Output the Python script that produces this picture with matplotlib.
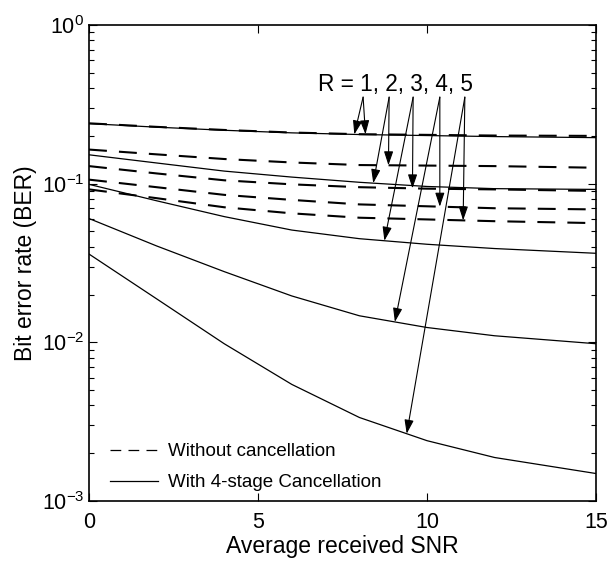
import numpy as np
import matplotlib
matplotlib.use('Agg')
import matplotlib.pyplot as plt

plt.rcParams['font.family'] = ['Liberation Sans', 'DejaVu Sans']
plt.rcParams['mathtext.fontset'] = 'custom'
plt.rcParams['mathtext.rm'] = 'Liberation Sans'

# SNR grid
snr = [0, 2, 4, 6, 8, 10, 12, 15]

# without cancellation (dashed), R = 1..5
ber_nc_r1 = [0.240, 0.228, 0.218, 0.210, 0.205, 0.203, 0.201, 0.200]
ber_nc_r2 = [0.164, 0.153, 0.143, 0.136, 0.131, 0.130, 0.129, 0.126]
ber_nc_r3 = [0.129, 0.116, 0.105, 0.099, 0.095, 0.093, 0.092, 0.090]
ber_nc_r4 = [0.106, 0.095, 0.085, 0.079, 0.074, 0.072, 0.070, 0.0688]
ber_nc_r5 = [0.092, 0.081, 0.071, 0.065, 0.061, 0.0595, 0.058, 0.0564]

# with 4-stage cancellation (solid), R = 1..5
ber_c_r1 = [0.239, 0.227, 0.217, 0.209, 0.204, 0.201, 0.198, 0.195]
ber_c_r2 = [0.152, 0.135, 0.120, 0.110, 0.102, 0.096, 0.093, 0.092]
ber_c_r3 = [0.099, 0.078, 0.062, 0.051, 0.045, 0.0415, 0.039, 0.0364]
ber_c_r4 = [0.0603, 0.0405, 0.0279, 0.0196, 0.0147, 0.0124, 0.011, 0.0098]
ber_c_r5 = [0.036, 0.0188, 0.0098, 0.00543, 0.00336, 0.0024, 0.00188, 0.00149]

nc_curves = [ber_nc_r1, ber_nc_r2, ber_nc_r3, ber_nc_r4, ber_nc_r5]
c_curves = [ber_c_r1, ber_c_r2, ber_c_r3, ber_c_r4, ber_c_r5]

# annotation: arrow start x (below each number) and tip x on the curves
arrow_start_x = [8.11, 8.88, 9.59, 10.38, 11.12]
arrow_start_y = 0.351
tip_x_nc = [8.18, 8.86, 9.57, 10.38, 11.07]
tip_x_c = [7.85, 8.41, 8.74, 9.05, 9.40]

fig = plt.figure(figsize=(6.16, 5.64), dpi=100)
ax = fig.add_axes([0.1445, 0.1117, 0.823, 0.844])

for i in range(5):
    ax.semilogy(snr, nc_curves[i], color='black', lw=1.5, dashes=(8.6, 5.8),
                label='Without cancellation' if i == 0 else None)
    ax.semilogy(snr, c_curves[i], color='black', lw=0.9,
                label='With 4-stage Cancellation' if i == 0 else None)

def on_curve(x, ys):
    return 10 ** np.interp(x, snr, np.log10(ys))

for i in range(5):
    for tx, ys in ((tip_x_nc[i], nc_curves[i]), (tip_x_c[i], c_curves[i])):
        ax.annotate('', xy=(tx, on_curve(tx, ys)),
                    xytext=(arrow_start_x[i], arrow_start_y),
                    arrowprops=dict(arrowstyle='-|>,head_length=0.6,head_width=0.2',
                                    mutation_scale=14, color='black', lw=0.8,
                                    shrinkA=0, shrinkB=0))

ax.text(6.78, 0.421, 'R = 1, 2, 3, 4, 5', fontsize=16.3, ha='left', va='center')

ax.set_xlim(0, 15)
ax.set_ylim(1e-3, 1)
ax.set_xticks([0, 5, 10, 15])
ax.tick_params(which='both', direction='in', top=True, right=True, labelsize=15.5)
ax.tick_params(which='major', length=6, width=0.8)
ax.tick_params(which='minor', length=3.5, width=0.8)
ax.tick_params(axis='x', pad=8)
for s in ax.spines.values():
    s.set_linewidth(1.2)

ax.set_xlabel('Average received SNR', fontsize=16.5, labelpad=1)
ax.set_ylabel('Bit error rate (BER)', fontsize=16.5, labelpad=3)

leg = ax.legend(loc='lower left', frameon=False, fontsize=13.5, handlelength=2.56,
                handletextpad=0.5, borderaxespad=0, labelspacing=0.72,
                bbox_to_anchor=(0.027, 0.005))
for h in leg.get_lines():
    h.set_linewidth(0.9)

fig.savefig('out.png', dpi=100)
